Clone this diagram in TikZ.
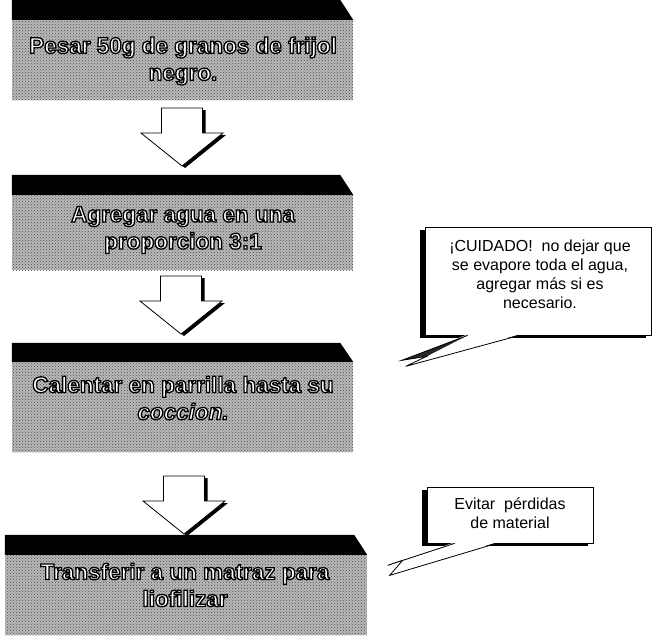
\documentclass[tikz,border=0pt]{standalone}
\usepackage{fontspec}
\setmainfont{Liberation Sans}
\usetikzlibrary{patterns,calc}
% white letters with a black outline (fill and stroke)
\newcommand{\borde}[1]{\special{pdf:literal direct 2 Tr 1.3 w 0 G}#1\special{pdf:literal direct 0 Tr}}
\tikzset{
  cuerpo/.style = {fill=gray!55, postaction={pattern=crosshatch dots, pattern color=black!70},
                   inner sep=0pt},
  banda/.style  = {fill=black},
  texto/.style  = {align=center, text=white, inner sep=0pt,
                   font=\fontsize{22.5}{27}\selectfont\bfseries},
  flecha/.style = {draw=black, fill=white, line width=0.8pt, line join=miter},
  sombra/.style = {fill=black},
  aviso/.style  = {draw=black, fill=white, line width=0.7pt, inner sep=0pt},
  nota/.style   = {align=center, inner sep=0pt, font=\fontsize{16}{19}\selectfont},
  cola/.style   = {draw=black, line width=0.8pt, line join=miter}
}
% block arrow pointing down: #1 centre x, #2 top y
\newcommand{\flechabaja}[2]{%
  \fill[sombra] (#1-20.5+3,#2+2) -- (#1+20.5+3,#2+2) -- (#1+20.5+3,#2+27)
    -- (#1+41+3,#2+27) -- (#1+3,#2+60) -- (#1-41+3,#2+27) -- (#1-20.5+3,#2+27) -- cycle;
  \draw[flecha] (#1-20.5,#2) -- (#1+20.5,#2) -- (#1+20.5,#2+25)
    -- (#1+41,#2+25) -- (#1,#2+58) -- (#1-41,#2+25) -- (#1-20.5,#2+25) -- cycle;}

\begin{document}
\begin{tikzpicture}[x=1pt,y=-1pt]
  \useasboundingbox (0,0) rectangle (652,635);
  % --- process boxes
  \node[cuerpo, minimum width=341pt, minimum height=80pt] (c1) at (182.5,60) {};
  \fill[banda] (c1.north west) -- ++(0,-20) -- ($(c1.north east)+(-13,-20)$)
        -- (c1.north east) -- cycle;
  \node[texto] (t1) at (183,61)
       {\borde{Pesar 50g de granos de frijol}\\\borde{negro.}};

  \node[cuerpo, minimum width=341pt, minimum height=75pt] (c2) at (182.5,232.5) {};
  \fill[banda] (c2.north west) -- ++(0,-20) -- ($(c2.north east)+(-13,-20)$)
        -- (c2.north east) -- cycle;
  \node[texto] (t2) at (183,230)
       {\borde{Agregar agua en una}\\\borde{proporcion 3:1}};

  \node[cuerpo, minimum width=341pt, minimum height=90pt] (c3) at (182.5,407) {};
  \fill[banda] (c3.north west) -- ++(0,-19) -- ($(c3.north east)+(-13,-19)$)
        -- (c3.north east) -- cycle;
  \node[texto] (t3) at (183,398)
       {\borde{Calentar en parrilla hasta su}\\\borde{\itshape coccion.}};

  \node[cuerpo, minimum width=362pt, minimum height=80pt] (c4) at (186,595) {};
  \fill[banda] (c4.north west) -- ++(0,-20) -- ($(c4.north east)+(-13,-20)$)
        -- (c4.north east) -- cycle;
  \node[texto] (t4) at (185,585)
       {\borde{Transferir a un matraz para}\\\borde{liofilizar}};

  % --- arrows between the boxes
  \flechabaja{182}{108}
  \flechabaja{181}{276}
  \flechabaja{184}{476}

  % --- first warning
  \fill[sombra] (425-5,227+3) rectangle (651-5,335+3);
  \node[aviso, minimum width=226pt, minimum height=108pt] (a1) at (538,281) {};
  \node[nota] (n1) at (540,274)
       {¡CUIDADO!\ \ no dejar que\\se evapore toda el agua,\\agregar más si es\\necesario.};
  \fill[white] ($(a1.south west)+(43,-1)$) -- ++(-66,26) -- ++(25,-4) -- ++(-21,10)
        -- ($(a1.south west)+(95,-1)$) -- cycle;
  \fill[black!85] ($(a1.south west)+(43,0)$) -- ++(-66,25) -- ++(25,-4) -- cycle;
  \draw[cola] ($(a1.south west)+(43,0)$) -- ++(-66,25) -- ++(25,-4) -- ++(-21,10)
        -- ($(a1.south west)+(95,0)$);

  % --- second warning
  \fill[sombra] (427-5,487+3) rectangle (593-5,543+3);
  \node[aviso, minimum width=166pt, minimum height=56pt] (a2) at (510,515) {};
  \node[nota] (n2) at (510,513) {Evitar\ \ pérdidas\\de material};
  \fill[white] ($(a2.south west)+(28,-1)$) -- ++(-67,23) -- ++(15,-5) -- ++(-13,15)
        -- ($(a2.south west)+(70,-1)$) -- cycle;
  \fill[black!85] ($(a2.south west)+(28,0)$) -- ++(-67,22) -- ++(15,-5) -- cycle;
  \draw[cola] ($(a2.south west)+(28,0)$) -- ++(-67,22) -- ++(15,-5) -- ++(-13,15)
        -- ($(a2.south west)+(70,0)$);
\end{tikzpicture}
\end{document}
